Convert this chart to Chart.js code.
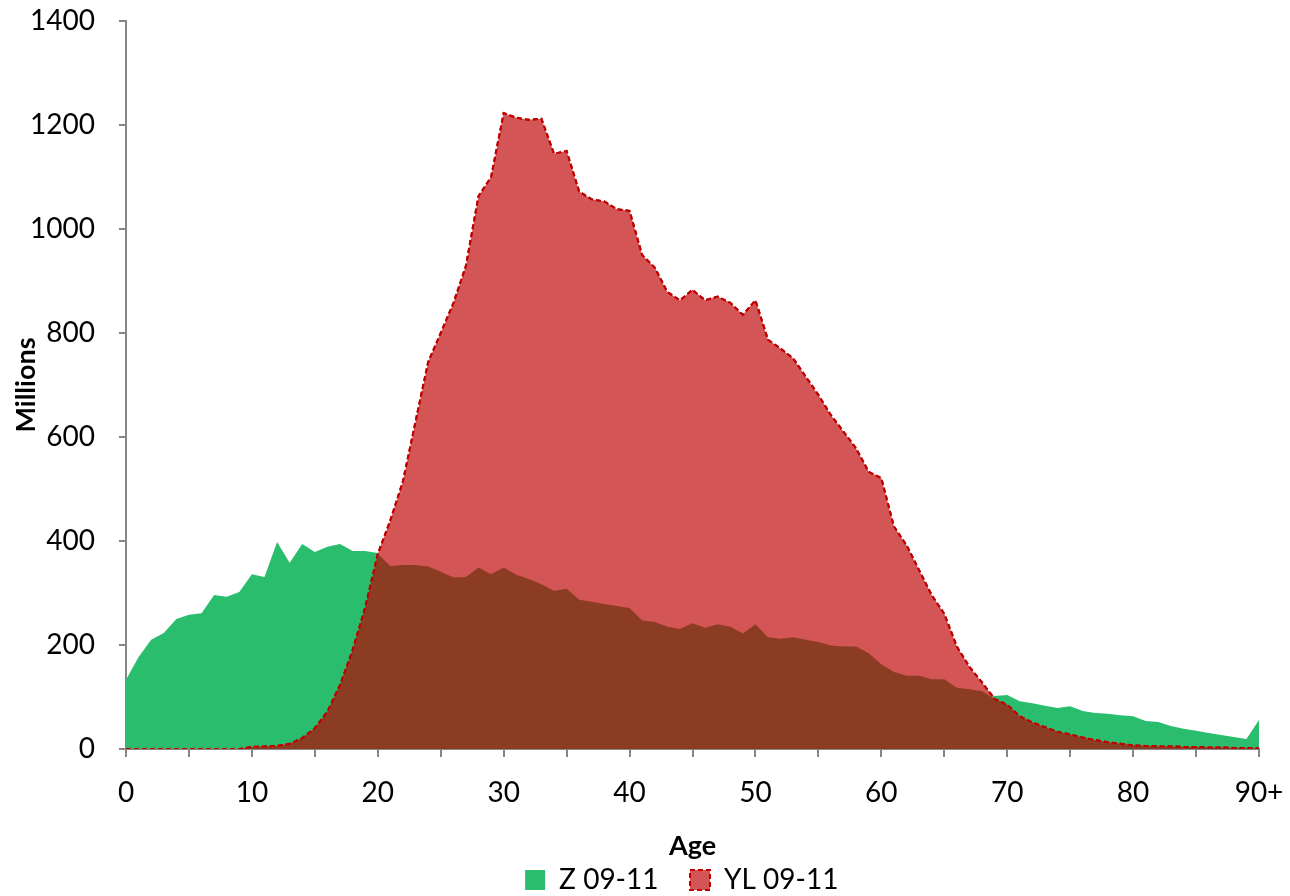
<!DOCTYPE html>
<html>
<head>
<meta charset="utf-8">
<script src="https://cdn.jsdelivr.net/npm/chart.js@4.4.1/dist/chart.umd.min.js"></script>
<style>
  body { margin: 0; background: #fff; }
  #wrap { width: 1290px; height: 896px; }
</style>
</head>
<body>
<div id="wrap"><canvas id="myChart"></canvas></div>
<script>
// ages 0..89 and 90+
const ages = Array.from({ length: 91 }, (_, i) => (i === 90 ? '90+' : String(i)));

const zValues = [133, 177, 210, 223, 250, 258, 261, 296, 293, 302,
  336, 331, 398, 358, 394, 379, 389, 394, 381, 381,
  377, 352, 354, 354, 351, 341, 330, 331, 349, 336,
  349, 335, 327, 317, 304, 308, 287, 283, 279, 275,
  271, 247, 244, 235, 231, 242, 233, 240, 235, 222,
  240, 215, 212, 215, 210, 206, 199, 197, 197, 184,
  163, 148, 141, 141, 134, 134, 118, 115, 111, 102,
  104, 92, 88, 83, 79, 82, 73, 69, 68, 65,
  63, 54, 52, 44, 39, 35, 31, 27, 23, 19,
  56];

const ylValues = [0, 0, 0, 0, 0, 0, 0, 0, 0, 0,
  4, 5, 6, 10, 21, 40, 72, 123, 190, 272,
  375, 440, 515, 630, 744, 800, 857, 929, 1063, 1100,
  1223, 1214, 1210, 1212, 1145, 1150, 1072, 1057, 1053, 1038,
  1035, 950, 926, 879, 863, 883, 863, 870, 858, 835,
  863, 787, 770, 751, 716, 681, 642, 610, 578, 533,
  521, 428, 392, 344, 296, 260, 197, 158, 128, 96,
  85, 63, 51, 42, 33, 28, 22, 17, 13, 10,
  7, 6, 5, 5, 4, 4, 3, 3, 2, 2,
  1];

const yTicks = [0, 200, 400, 600, 800, 1000, 1200, 1400];

// where both areas overlap the chart shows a darker colour
const overlap = zValues.map((v, i) => Math.min(v, ylValues[i]));

const FONT = 'Lato';
const axisGrey = '#868686';

const ctx = document.getElementById('myChart');

new Chart(ctx, {
  type: 'line',
  data: {
    labels: ages,
    datasets: [
      { // dashed outline on top of everything
        label: 'YL line',
        data: ylValues,
        fill: false,
        borderColor: '#C00000',
        borderWidth: 2,
        borderDash: [5, 3],
        pointRadius: 0,
        tension: 0
      },
      {
        label: 'overlap',
        data: overlap,
        fill: 'origin',
        backgroundColor: '#8B3C23',
        borderWidth: 0,
        pointRadius: 0,
        tension: 0
      },
      {
        label: 'YL 09-11',
        data: ylValues,
        fill: 'origin',
        backgroundColor: '#D45555',
        borderColor: '#C00000',
        borderWidth: 2,
        borderDash: [5, 3],
        pointRadius: 0,
        tension: 0
      },
      {
        label: 'Z 09-11',
        data: zValues,
        fill: 'origin',
        backgroundColor: '#2BBD6E',
        borderColor: '#2BBD6E',
        borderWidth: 0,
        pointRadius: 0,
        tension: 0
      }
    ]
  },
  options: {
    responsive: true,
    maintainAspectRatio: false,
    animation: false,
    layout: {
      padding: { top: 21, right: 31, left: 0, bottom: -8 }
    },
    plugins: {
      tooltip: { enabled: false },
      legend: {
        position: 'bottom',
        fullSize: false,
        labels: {
          font: { family: FONT, size: 28 },
          color: '#000',
          boxWidth: 20,
          boxHeight: 20,
          padding: 10,
          generateLabels: (chart) => {
            const items = Chart.defaults.plugins.legend.labels.generateLabels(chart)
              .filter(item => item.datasetIndex >= 2)
              .sort((a, b) => b.datasetIndex - a.datasetIndex);
            items[0].text += '   '; // wider gap between the two entries
            items[1].text += '   ';
            return items;
          }
        }
      }
    },
    scales: {
      x: {
        afterFit: (scale) => {
          scale.height = 107;
          scale.paddingLeft = 0;
          scale.paddingRight = 0;
        },
        border: { display: true, color: axisGrey, width: 2 },
        grid: {
          drawOnChartArea: false,
          drawTicks: true,
          tickLength: 8,
          lineWidth: 2,
          tickColor: (c) => (c.index % 5 === 0 ? axisGrey : 'rgba(0,0,0,0)')
        },
        ticks: {
          autoSkip: false,
          maxRotation: 0,
          padding: 19,
          color: '#000',
          font: { family: FONT, size: 28 },
          callback: (v, i) => (i % 10 === 0 ? ages[i] : '')
        },
        title: {
          display: true,
          text: 'Age',
          color: '#000',
          font: { family: FONT, size: 27, weight: 'bold', lineHeight: 0.7 },
          padding: { top: 0, bottom: 0 }
        }
      },
      y: {
        min: 0,
        max: 1400,
        afterFit: (scale) => {
          scale.width = 126;
          scale.paddingTop = 0;
          scale.paddingBottom = 0;
        },
        afterBuildTicks: (scale) => { scale.ticks = yTicks.map(v => ({ value: v })); },
        border: { display: true, color: axisGrey, width: 2 },
        grid: {
          drawOnChartArea: false,
          drawTicks: true,
          tickLength: 7,
          lineWidth: 2,
          color: axisGrey
        },
        ticks: {
          padding: 24,
          color: '#000',
          font: { family: FONT, size: 28 },
          callback: (v) => String(v)
        },
        title: {
          display: true,
          text: 'Millions',
          color: '#000',
          font: { family: FONT, size: 27, weight: 'bold', lineHeight: 1.2 },
          padding: { top: 10, bottom: 0 }
        }
      }
    }
  }
});
</script>
</body>
</html>
